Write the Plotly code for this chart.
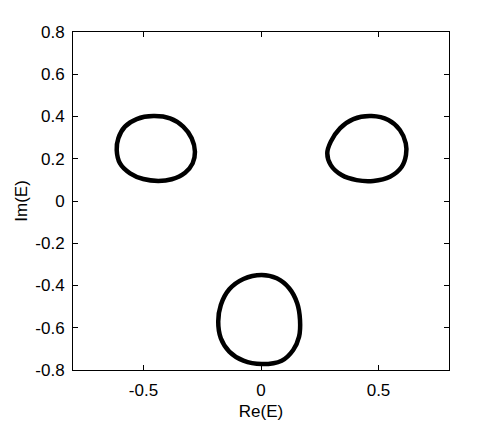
import plotly.graph_objects as go

# Loop (Re, Im)
left_re = [-0.458, -0.387, -0.331, -0.295, -0.281, -0.291, -0.323, -0.380, -0.437,
           -0.501, -0.557, -0.600, -0.614, -0.607, -0.579, -0.529, -0.458]
left_im = [0.402, 0.391, 0.352, 0.297, 0.233, 0.178, 0.134, 0.103, 0.095,
           0.104, 0.131, 0.178, 0.241, 0.297, 0.352, 0.388, 0.402]

right_re = [0.471, 0.542, 0.591, 0.616, 0.617, 0.599, 0.549, 0.478, 0.407,
            0.343, 0.297, 0.282, 0.297, 0.336, 0.393, 0.471]
right_im = [0.402, 0.383, 0.336, 0.273, 0.218, 0.162, 0.115, 0.095, 0.099,
            0.123, 0.170, 0.226, 0.281, 0.344, 0.388, 0.402]

bottom_re = [0.003, 0.067, 0.120, 0.154, 0.166, 0.162, 0.137, 0.088, 0.003,
             -0.075, -0.135, -0.171, -0.182, -0.171, -0.135, -0.075, 0.003]
bottom_im = [-0.350, -0.366, -0.413, -0.484, -0.563, -0.642, -0.705, -0.756, -0.772,
             -0.756, -0.713, -0.650, -0.571, -0.492, -0.418, -0.369, -0.350]

x_ticks = [-0.5, 0, 0.5]
x_tick_labels = ["-0.5", "0", "0.5"]
y_ticks = [-0.8, -0.6, -0.4, -0.2, 0, 0.2, 0.4, 0.6, 0.8]
y_tick_labels = ["-0.8", "-0.6", "-0.4", "-0.2", "0", "0.2", "0.4", "0.6", "0.8"]

fig = go.Figure()
for xs, ys in [(left_re, left_im), (right_re, right_im), (bottom_re, bottom_im)]:
    fig.add_trace(go.Scatter(x=xs, y=ys, mode="lines",
                             line=dict(color="black", width=4.5, shape="spline", smoothing=1.0),
                             showlegend=False, hoverinfo="skip"))

font = dict(family="Liberation Sans, Arial, sans-serif", size=17, color="black")
axis_common = dict(showgrid=False, zeroline=False, showline=True, linecolor="black",
                   linewidth=1, mirror="ticks", ticks="inside", ticklen=5,
                   tickcolor="black", tickfont=font, automargin=False)

fig.update_layout(
    width=488, height=418,
    margin=dict(l=65, r=47, t=24, b=56),
    paper_bgcolor="white", plot_bgcolor="white",
    font=font,
    xaxis=dict(range=[-0.8, 0.8], tickvals=x_ticks, ticktext=x_tick_labels,
               ticklabelstandoff=5,
               title=dict(text="Re(E)", font=font, standoff=5), **axis_common),
    yaxis=dict(range=[-0.8, 0.8], tickvals=y_ticks, ticktext=y_tick_labels,
               ticklabelstandoff=4,
               title=dict(text="Im(E)", font=font, standoff=3), **axis_common),
)

fig.write_html("out.html")
